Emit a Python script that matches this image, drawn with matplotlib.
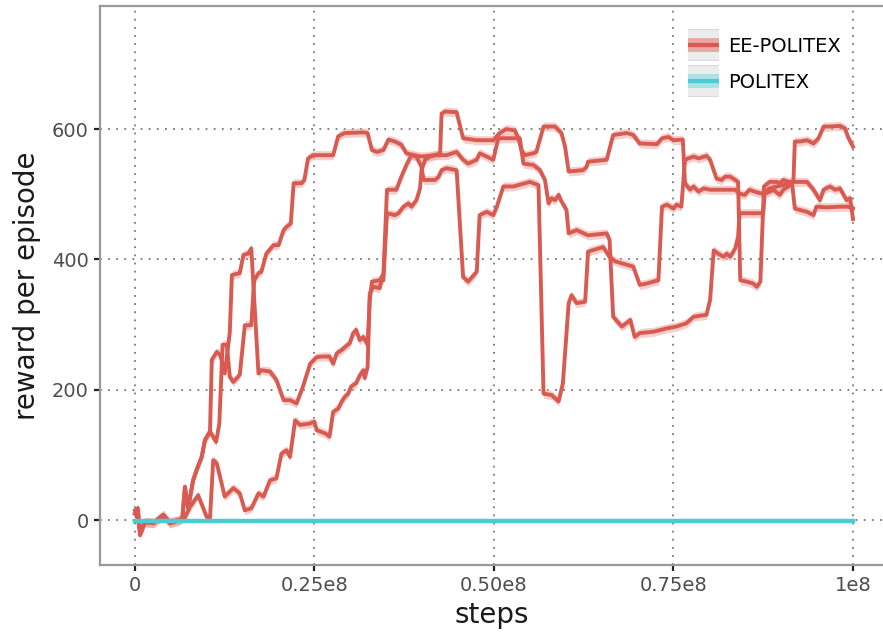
import numpy as np
import matplotlib
matplotlib.use("Agg")
import matplotlib.pyplot as plt
from matplotlib.lines import Line2D
from matplotlib.legend_handler import HandlerTuple

# ------------------------------------------------------------
# data : three EE-POLITEX runs (steps in units of 1e8, reward)
# ------------------------------------------------------------
run_a = [(0, 10), (0.004, 18), (0.007, -23), (0.014, -3), (0.0255, -5), (0.0395, 8),
         (0.0487, -5), (0.0627, 0), (0.066, 3), (0.0696, 51), (0.074, 18), (0.081, 61),
         (0.0859, 77), (0.093, 97), (0.0975, 123), (0.1045, 136), (0.113, 120), (0.1175, 148),
         (0.122, 269), (0.128, 269), (0.132, 220), (0.137, 212), (0.146, 223), (0.153, 299),
         (0.162, 299), (0.166, 368), (0.172, 379), (0.176, 381), (0.183, 409), (0.193, 422),
         (0.200, 422), (0.207, 445), (0.211, 450), (0.217, 455), (0.221, 517), (0.232, 517),
         (0.236, 522), (0.241, 555), (0.248, 560), (0.276, 560), (0.283, 589), (0.292, 594),
         (0.318, 595), (0.324, 594), (0.330, 568), (0.337, 565), (0.346, 568), (0.353, 584),
         (0.362, 581), (0.371, 576), (0.378, 563), (0.388, 560), (0.399, 558), (0.418, 560),
         (0.425, 563), (0.427, 624), (0.432, 627), (0.448, 626), (0.457, 586), (0.476, 583),
         (0.499, 583), (0.508, 594), (0.517, 600), (0.529, 598), (0.534, 586), (0.538, 568),
         (0.543, 560), (0.555, 563), (0.559, 565), (0.569, 604), (0.585, 604), (0.594, 594),
         (0.599, 573), (0.604, 535), (0.624, 537), (0.629, 542), (0.631, 550), (0.657, 553),
         (0.666, 591), (0.685, 594), (0.694, 591), (0.703, 578), (0.727, 577), (0.734, 586),
         (0.743, 588), (0.750, 583), (0.763, 584), (0.766, 517), (0.773, 507), (0.778, 512),
         (0.785, 504), (0.792, 509), (0.801, 507), (0.824, 507), (0.836, 507), (0.842, 501),
         (0.849, 499), (0.856, 507), (0.863, 504), (0.873, 501), (0.884, 509), (0.894, 512),
         (0.903, 514), (0.915, 519), (0.926, 519), (0.936, 519), (0.945, 507), (0.954, 491),
         (0.959, 507), (0.968, 512), (0.975, 507), (0.982, 509), (0.986, 501), (0.991, 491),
         (0.996, 494), (1.0, 462)]

run_b = [(0, 10), (0.004, 18), (0.007, -23), (0.014, -3), (0.0255, -5), (0.0395, 8),
         (0.0487, -5), (0.0627, 0), (0.066, 3), (0.0696, 51), (0.074, 18), (0.081, 61),
         (0.0859, 77), (0.093, 97), (0.0975, 123), (0.1045, 136), (0.107, 246), (0.114, 258),
         (0.119, 253), (0.125, 225), (0.132, 287), (0.135, 376), (0.146, 379), (0.151, 407),
         (0.158, 409), (0.162, 417), (0.172, 225), (0.176, 230), (0.188, 228), (0.197, 215),
         (0.207, 184), (0.216, 184), (0.225, 179), (0.234, 205), (0.244, 240), (0.253, 250),
         (0.262, 251), (0.271, 251), (0.276, 240), (0.281, 256), (0.288, 261), (0.295, 268),
         (0.299, 271), (0.304, 287), (0.308, 292), (0.313, 276), (0.318, 281), (0.324, 269),
         (0.327, 338), (0.330, 366), (0.341, 368), (0.346, 378), (0.351, 507), (0.364, 507),
         (0.371, 527), (0.378, 545), (0.385, 560), (0.392, 558), (0.399, 542), (0.402, 522),
         (0.418, 522), (0.423, 527), (0.427, 537), (0.434, 540), (0.448, 537), (0.457, 373),
         (0.464, 366), (0.476, 381), (0.480, 468), (0.490, 473), (0.499, 468), (0.504, 481),
         (0.513, 512), (0.527, 512), (0.550, 519), (0.562, 514), (0.569, 194), (0.580, 192),
         (0.590, 182), (0.596, 210), (0.604, 333), (0.608, 345), (0.615, 333), (0.627, 335),
         (0.631, 412), (0.652, 419), (0.661, 404), (0.669, 397), (0.694, 389), (0.703, 361),
         (0.713, 363), (0.722, 366), (0.729, 368), (0.734, 481), (0.741, 484), (0.750, 478),
         (0.754, 484), (0.761, 481), (0.766, 553), (0.778, 558), (0.785, 555), (0.796, 559),
         (0.801, 553), (0.810, 524), (0.817, 522), (0.822, 527), (0.829, 527), (0.836, 522),
         (0.840, 519), (0.843, 368), (0.852, 366), (0.861, 363), (0.866, 358), (0.871, 366),
         (0.876, 512), (0.884, 519), (0.894, 519), (0.898, 517), (0.903, 522), (0.910, 519),
         (0.915, 519), (0.919, 478), (0.926, 476), (0.936, 473), (0.945, 468), (0.949, 481),
         (0.963, 480), (0.982, 481), (0.993, 481), (1.0, 478)]

run_c = [(0, 15), (0.004, 0), (0.007, -15), (0.014, -3), (0.0255, -4), (0.0395, 5),
         (0.0487, -3), (0.0627, 1), (0.0696, 4), (0.0766, 20), (0.088, 38), (0.0998, 5),
         (0.1045, 3), (0.109, 92), (0.114, 87), (0.125, 36), (0.137, 49), (0.146, 41),
         (0.153, 15), (0.162, 18), (0.172, 41), (0.179, 36), (0.188, 61), (0.197, 64),
         (0.204, 102), (0.211, 107), (0.216, 97), (0.223, 153), (0.230, 146), (0.243, 148),
         (0.250, 151), (0.253, 138), (0.265, 133), (0.271, 128), (0.276, 166), (0.283, 171),
         (0.288, 182), (0.292, 189), (0.297, 194), (0.301, 205), (0.308, 210), (0.313, 222),
         (0.318, 230), (0.320, 218), (0.324, 235), (0.327, 348), (0.332, 358), (0.341, 356),
         (0.343, 368), (0.346, 368), (0.351, 471), (0.362, 468), (0.367, 471), (0.374, 481),
         (0.381, 486), (0.385, 481), (0.392, 491), (0.397, 509), (0.399, 537), (0.404, 553),
         (0.411, 558), (0.418, 560), (0.434, 560), (0.448, 565), (0.457, 553), (0.464, 547),
         (0.476, 553), (0.480, 563), (0.499, 553), (0.506, 586), (0.531, 586), (0.536, 586),
         (0.541, 547), (0.555, 545), (0.564, 537), (0.571, 522), (0.576, 486), (0.580, 494),
         (0.585, 491), (0.590, 499), (0.594, 489), (0.601, 476), (0.604, 440), (0.615, 445),
         (0.631, 437), (0.657, 440), (0.661, 430), (0.666, 312), (0.678, 297), (0.690, 307),
         (0.696, 281), (0.703, 287), (0.722, 289), (0.740, 294), (0.754, 297), (0.768, 302),
         (0.778, 312), (0.796, 315), (0.801, 338), (0.806, 414), (0.812, 409), (0.820, 404),
         (0.824, 409), (0.829, 404), (0.836, 417), (0.840, 435), (0.842, 471), (0.875, 471),
         (0.877, 501), (0.884, 504), (0.889, 507), (0.898, 499), (0.903, 507), (0.910, 512),
         (0.917, 519), (0.919, 581), (0.926, 581), (0.936, 583), (0.945, 578), (0.952, 586),
         (0.959, 604), (0.968, 604), (0.982, 605), (0.989, 601), (0.993, 588), (1.0, 573)]

# POLITEX stays flat at (slightly under) zero
politex_x = [0, 1.0]
politex_y = [-2, -2]

band = 7          # half width of the shaded band
step_scale = 1e8

x_ticks = [0, 0.25e8, 0.5e8, 0.75e8, 1e8]
x_ticklabels = ["0", "0.25e8", "0.50e8", "0.75e8", "1e8"]
y_ticks = [0, 200, 400, 600]

red = "#d95a51"
red_light = "#eba8a3"
cyan = "#4fc9d3"
cyan_light = "#a9e2e7"

#------------------------------------------------------------
# plot
#------------------------------------------------------------
fig = plt.figure(figsize=(8.83, 6.34), dpi=100)
ax = fig.add_axes([100/883, 69/634, 783/883, 559/634])

for run in [run_a, run_b, run_c]:
    xs = np.array([p[0] for p in run]) * step_scale
    ys = np.array([p[1] for p in run], dtype=float)
    ax.fill_between(xs, ys - band, ys + band, color=red_light, alpha=0.55, lw=0)
    ax.plot(xs, ys, color=red, lw=2.8, solid_joinstyle="round")

ax.plot(np.array(politex_x) * step_scale, politex_y, color=cyan, lw=3.2)

ax.set_xlim(-0.0487e8, 1.0418e8)
ax.set_ylim(-69, 789)
ax.set_xticks(x_ticks)
ax.set_xticklabels(x_ticklabels)
ax.set_yticks(y_ticks)

ax.grid(True, linestyle=(0, (1, 3.5)), color="#777777", lw=1.3)
ax.set_axisbelow(True)

for side in ["left", "top", "bottom"]:
    ax.spines[side].set_color("#999999")
    ax.spines[side].set_linewidth(1.6)
ax.spines["right"].set_visible(False)

ax.tick_params(axis="both", colors="#222222", length=4, width=1.6,
               labelsize=14, labelcolor="#4d4d4d", pad=4)

ax.set_xlabel("steps", fontsize=20, color="#1a1a1a", labelpad=4)
ax.set_ylabel("reward per episode", fontsize=20, color="#1a1a1a", labelpad=8)

# legend keys : grey square + light band + line, all stacked (thick butt lines)
def key(light, dark):
    return (Line2D([], [], color="#d9d9d9", lw=23, solid_capstyle="butt"),
            Line2D([], [], color="#ececec", lw=21.5, solid_capstyle="butt"),
            Line2D([], [], color=light, lw=10, solid_capstyle="butt"),
            Line2D([], [], color=dark, lw=3, solid_capstyle="butt"))

fig.legend([key(red_light, red), key(cyan_light, cyan)], ["EE-POLITEX", "POLITEX"],
           handler_map={tuple: HandlerTuple(ndivide=1, pad=0)},
           loc="upper left", bbox_to_anchor=(688/883, 1 - 37/634),
           bbox_transform=fig.transFigure, frameon=False, fontsize=14,
           handlelength=1.6, handleheight=0.7, handletextpad=0.45,
           labelspacing=0.86, borderpad=0, borderaxespad=0)

fig.savefig("out.png", dpi=100)
